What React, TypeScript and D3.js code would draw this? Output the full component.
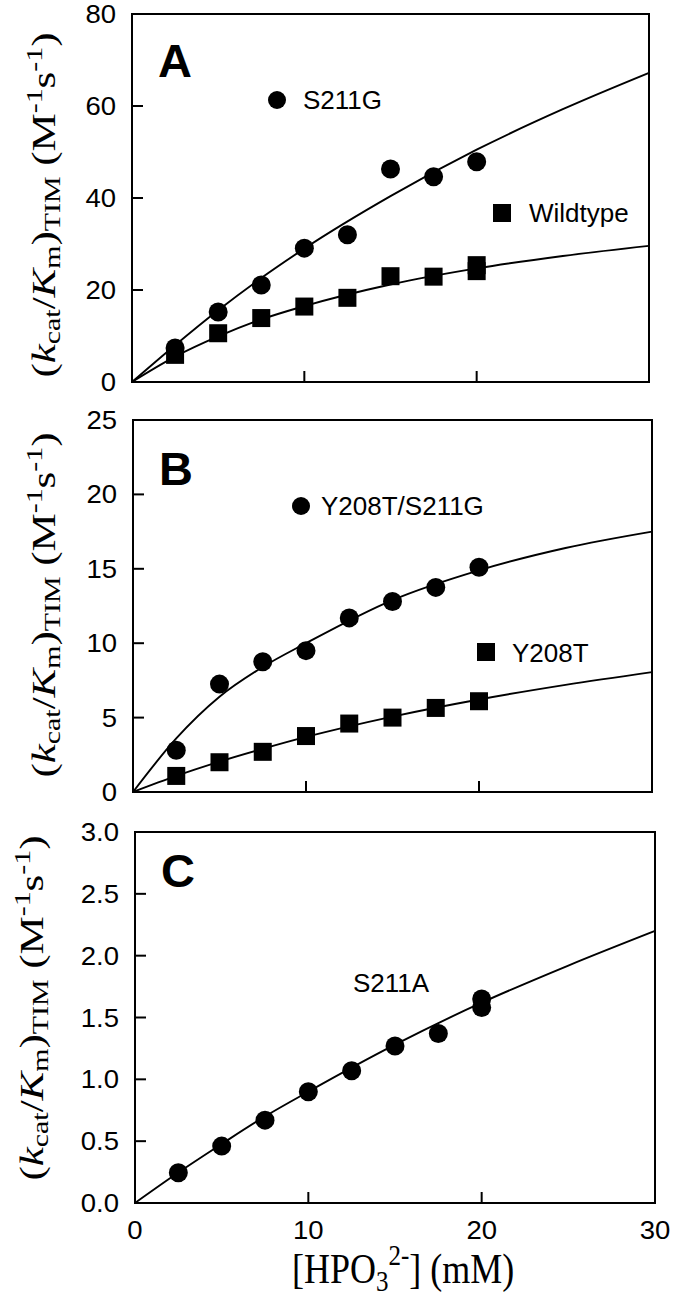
import React from "react";
import * as d3 from "d3";

// ---------- data ----------
const concA = [2.5, 5, 7.5, 10, 12.5, 15, 17.5, 20];
const s211gRate = [7.4, 15.2, 21.1, 29.1, 32.0, 46.3, 44.6, 47.9];
const wildtypeConc = [2.5, 5, 7.5, 10, 12.5, 15, 17.5, 20, 20];
const wildtypeRate = [5.9, 10.6, 13.9, 16.4, 18.3, 23.0, 22.9, 25.4, 24.1];

const concB = [2.5, 5, 7.5, 10, 12.5, 15, 17.5, 20];
const y208tS211gRate = [2.8, 7.25, 8.75, 9.5, 11.7, 12.8, 13.75, 15.1];
const y208tRate = [1.08, 2.0, 2.7, 3.76, 4.6, 5.0, 5.65, 6.1];

const concC = [2.5, 5, 7.5, 10, 15, 17.5, 12.5, 20, 20];
const s211aRate = [0.245, 0.46, 0.67, 0.9, 1.27, 1.37, 1.07, 1.65, 1.58];

// fitted curves, values
const fitX = [0, 2.5, 5, 7.5, 10, 15, 20, 25, 30];
const s211gFit = [0, 8.0, 15.6, 22.6, 29.0, 40.4, 50.5, 59.3, 67.2];
const wildtypeFit = [0, 5.5, 9.9, 13.6, 16.5, 21.2, 24.7, 27.4, 29.6];
const y208tS211gFit = [0, 3.6, 6.4, 8.4, 10.0, 12.9, 14.9, 16.4, 17.5];
const y208tFit = [0, 1.08, 2.04, 2.9, 3.7, 5.07, 6.22, 7.2, 8.06];
const s211aFit = [0, 0.246, 0.477, 0.7, 0.9, 1.28, 1.62, 1.92, 2.2];

const xTicks = [0, 10, 20, 30];
const yTicksA = [0, 20, 40, 60, 80];
const yTicksB = [0, 5, 10, 15, 20, 25];
const yTicksC = [0, 0.5, 1.0, 1.5, 2.0, 2.5, 3.0];

const SANS = "'Liberation Sans', Arial, Helvetica, sans-serif";
const SERIF = "'Liberation Serif', 'Times New Roman', Times, serif";

type Series = { xs: number[]; ys: number[]; marker: "circle" | "square" };
type Fit = { xs: number[]; ys: number[] };
type Legend = { marker?: "circle" | "square"; mx?: number; my?: number; text: string; tx: number; ty: number };

type PanelProps = {
  left: number; right: number; top: number; bottom: number;
  yMax: number; yTicks: number[]; yFmt: (v: number) => string;
  letter: string; letterY: number;
  series: Series[]; fits: Fit[]; legends: Legend[];
  labelX: number; labelY: number; showXLabels: boolean;
};

function Panel(p: PanelProps) {
  const x = d3.scaleLinear().domain([0, 30]).range([p.left, p.right]);
  const y = d3.scaleLinear().domain([0, p.yMax]).range([p.bottom, p.top]);
  const line = d3.line<[number, number]>().x(d => x(d[0])).y(d => y(d[1])).curve(d3.curveMonotoneX);
  const tick = 11;
  return (
    <g>
      {p.fits.map((f, i) => (
        <path key={"f" + i} d={line(f.xs.map((v, j) => [v, f.ys[j]]) as [number, number][]) || ""}
          fill="none" stroke="#000" strokeWidth={1.9} />
      ))}
      {p.series.map((s, i) => (
        <g key={"s" + i}>
          {s.xs.map((v, j) =>
            s.marker === "circle" ? (
              <circle key={j} cx={x(v)} cy={y(s.ys[j])} r={9.5} fill="#000" />
            ) : (
              <rect key={j} x={x(v) - 9} y={y(s.ys[j]) - 9} width={18} height={18} fill="#000" />
            )
          )}
        </g>
      ))}
      <rect x={p.left} y={p.top} width={p.right - p.left} height={p.bottom - p.top}
        fill="none" stroke="#000" strokeWidth={2} />
      {p.yTicks.map(t => (
        <g key={"yt" + t}>
          <line x1={p.left} x2={p.left + tick} y1={y(t)} y2={y(t)} stroke="#000" strokeWidth={2} />
          <text transform={`translate(${p.left - 16},${y(t)}) scale(1.1,1)`} dy="0.36em" textAnchor="end"
            fontFamily={SANS} fontSize={25} fill="#000">{p.yFmt(t)}</text>
        </g>
      ))}
      {xTicks.map(t => (
        <g key={"xt" + t}>
          <line x1={x(t)} x2={x(t)} y1={p.bottom} y2={p.bottom - tick} stroke="#000" strokeWidth={2} />
          {p.showXLabels && (
            <text transform={`translate(${x(t)},${p.bottom + 36}) scale(1.1,1)`} textAnchor="middle"
              fontFamily={SANS} fontSize={25} fill="#000">{t}</text>
          )}
        </g>
      ))}
      <text x={p.left + 26} y={p.letterY} fontFamily={SANS} fontWeight="bold" fontSize={47} fill="#000">{p.letter}</text>
      {p.legends.map((l, i) => (
        <g key={"l" + i}>
          {l.marker === "circle" && <circle cx={l.mx} cy={l.my} r={9} fill="#000" />}
          {l.marker === "square" && <rect x={(l.mx as number) - 9} y={(l.my as number) - 9} width={18} height={18} fill="#000" />}
          <text x={l.tx} y={l.ty} fontFamily={SANS} fontSize={26} fill="#000">{l.text}</text>
        </g>
      ))}
      <g transform={`translate(${p.labelX},${p.labelY}) rotate(-90) scale(1.3,1)`}>
        <text x={0} y={0} textAnchor="middle" fontFamily={SERIF} fontSize={33} fill="#000">
          (<tspan fontStyle="italic">k</tspan>
          <tspan fontSize={23} dy={5}>cat</tspan>
          <tspan dy={-5}>/</tspan>
          <tspan fontStyle="italic">K</tspan>
          <tspan fontSize={23} dy={5}>m</tspan>
          <tspan dy={-5}>)</tspan>
          <tspan fontSize={23} dy={5}>TIM</tspan>
          <tspan dy={-5}> (M</tspan>
          <tspan fontSize={23} dy={-13}>-1</tspan>
          <tspan dy={13}>s</tspan>
          <tspan fontSize={23} dy={-13}>-1</tspan>
          <tspan dy={13}>)</tspan>
        </text>
      </g>
    </g>
  );
}

export default function App() {
  return (
    <svg width={674} height={1302} style={{ position: "absolute", left: 0, top: 0, background: "#fff" }}>
      <rect width={674} height={1302} fill="#fff" />
      <Panel left={132} right={649} top={14} bottom={382} yMax={80} yTicks={yTicksA}
        yFmt={d3.format("d")} letter="A" letterY={77}
        series={[{ xs: concA, ys: s211gRate, marker: "circle" }, { xs: wildtypeConc, ys: wildtypeRate, marker: "square" }]}
        fits={[{ xs: fitX, ys: s211gFit }, { xs: fitX, ys: wildtypeFit }]}
        legends={[
          { marker: "circle", mx: 277, my: 100, text: "S211G", tx: 303, ty: 109 },
          { marker: "square", mx: 502, my: 213, text: "Wildtype", tx: 529, ty: 222 },
        ]}
        labelX={55} labelY={205} showXLabels={false} />
      <Panel left={133} right={652} top={420} bottom={792} yMax={25} yTicks={yTicksB}
        yFmt={d3.format("d")} letter="B" letterY={485}
        series={[{ xs: concB, ys: y208tS211gRate, marker: "circle" }, { xs: concB, ys: y208tRate, marker: "square" }]}
        fits={[{ xs: fitX, ys: y208tS211gFit }, { xs: fitX, ys: y208tFit }]}
        legends={[
          { marker: "circle", mx: 301, my: 506, text: "Y208T/S211G", tx: 321, ty: 515 },
          { marker: "square", mx: 486, my: 652, text: "Y208T", tx: 512, ty: 662 },
        ]}
        labelX={55} labelY={605} showXLabels={false} />
      <Panel left={135} right={655} top={832} bottom={1203} yMax={3} yTicks={yTicksC}
        yFmt={d3.format(".1f")} letter="C" letterY={887}
        series={[{ xs: concC, ys: s211aRate, marker: "circle" }]}
        fits={[{ xs: fitX, ys: s211aFit }]}
        legends={[{ text: "S211A", tx: 353, ty: 992 }]}
        labelX={43} labelY={1008} showXLabels={true} />
      <g transform="translate(292,1283) scale(1,1.18)">
        <text x={0} y={0} fontFamily={SERIF} fontSize={36} fill="#000">
          [HPO<tspan fontSize={25} dy={7}>3</tspan>
          <tspan fontSize={25} dy={-22}>2-</tspan>
          <tspan dy={15}>] (mM)</tspan>
        </text>
      </g>
    </svg>
  );
}
